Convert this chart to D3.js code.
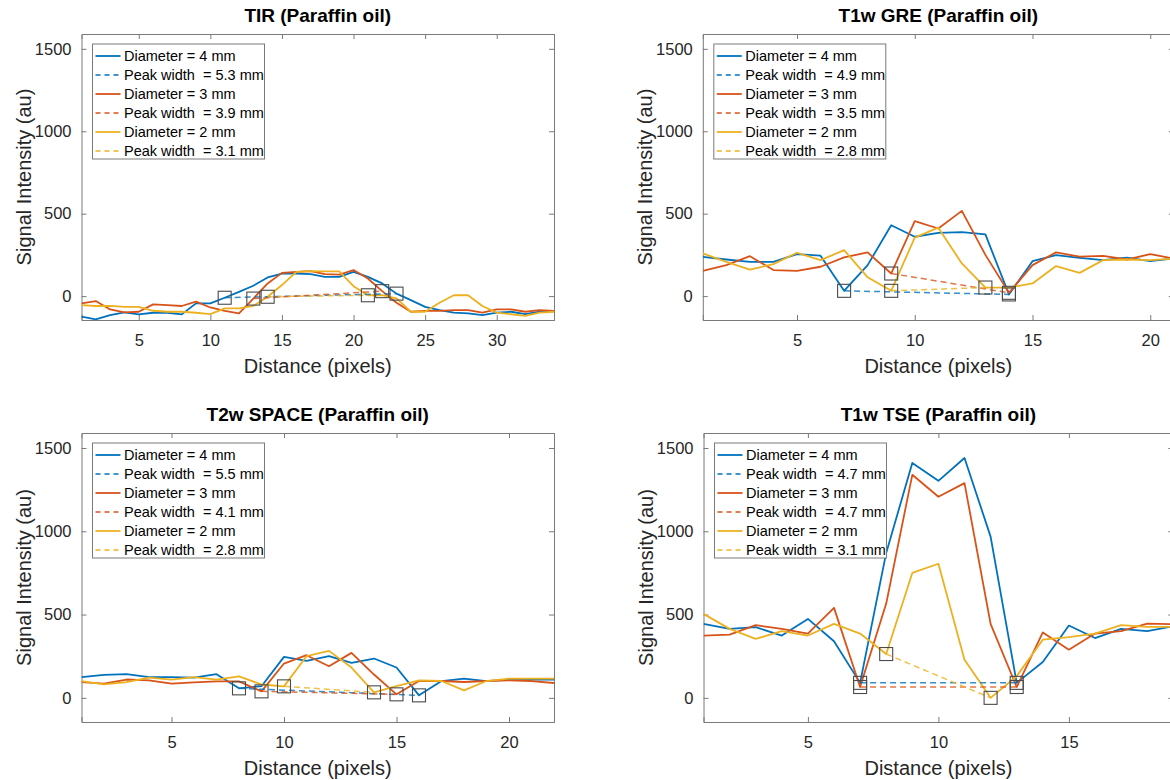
<!DOCTYPE html>
<html>
<head>
<meta charset="utf-8">
<script src="https://cdn.jsdelivr.net/npm/d3@7"></script>
<style>
  body { margin: 0; background: #fff; }
  svg { display: block; font-family: 'Liberation Sans', Arial, sans-serif; }
  .tick-label { font-size: 16.5px; fill: #262626; }
  .axis-title { font-size: 20px; fill: #262626; }
  .panel-title { font-size: 19px; font-weight: bold; fill: #000; }
  .legend-text { font-size: 14.5px; fill: #000; white-space: pre; }
</style>
</head>
<body>
<svg id="chart"></svg>
<script>
// 数据 - 直径 4 / 3 / 2 mm 的信号曲线
const seriesColors = ['#0072BD', '#D95319', '#EDB120'];
const diameterLabels = ['Diameter = 4 mm', 'Diameter = 3 mm', 'Diameter = 2 mm'];
const yTicks = [0, 500, 1000, 1500];

// TIR
const tirTitle = 'TIR (Paraffin oil)';
const tirD4 = [-125, -141, -115, -99, -111, -101, -101, -111, -44, -44, -10, 26, 63, 113, 137, 137, 133, 117, 117, 147, 117, 77, 15, -24, -65, -85, -100, -105, -115, -100, -95, -110, -95, -90];
const tirD3 = [-44, -30, -81, -99, -95, -50, -55, -60, -34, -69, -89, -105, -15, 77, 141, 147, 152, 133, 130, 158, 107, 30, -40, -95, -90, -90, -85, -85, -100, -80, -80, -95, -85, -90];
const tirD2 = [-55, -60, -59, -65, -65, -89, -95, -95, -101, -109, -75, -75, -60, -4, 67, 147, 152, 150, 150, 60, 5, 6, -14, -95, -95, -40, 5, 5, -60, -100, -110, -120, -100, -95];
const tirPeaks = [[11, 23], [13, 22], [14, 21]];
const tirWidths = ['5.3', '3.9', '3.1'];
const tirXTicks = [5, 10, 15, 20, 25, 30];

// T1w GRE
const greTitle = 'T1w GRE (Paraffin oil)';
const greD4 = [238, 222, 208, 208, 255, 245, 32, 188, 430, 360, 384, 388, 374, 10, 212, 248, 232, 218, 233, 212, 228];
const greD3 = [153, 188, 242, 158, 153, 178, 235, 265, 137, 455, 410, 517, 250, 20, 188, 265, 240, 244, 222, 255, 228];
const greD2 = [259, 208, 161, 194, 263, 218, 279, 114, 32, 355, 415, 198, 52, 52, 77, 182, 141, 218, 222, 218, 228];
const grePeaks = [[7, 14], [9, 14], [9, 13]];
const greWidths = ['4.9', '3.5', '2.8'];
const greXTicks = [5, 10, 15, 20];

// T2w SPACE
const spaceTitle = 'T2w SPACE (Paraffin oil)';
const spaceD4 = [125, 138, 142, 125, 125, 121, 142, 57, 70, 246, 222, 250, 210, 236, 182, 15, 101, 115, 101, 109, 109, 109];
const spaceD3 = [95, 85, 110, 105, 85, 93, 99, 99, 39, 206, 256, 190, 270, 140, 21, 101, 101, 95, 101, 105, 101, 89];
const spaceD2 = [101, 81, 95, 121, 109, 125, 109, 129, 80, 69, 250, 282, 182, 33, 70, 105, 101, 45, 101, 115, 115, 115];
const spacePeaks = [[8, 16], [9, 15], [10, 14]];
const spaceWidths = ['5.5', '4.1', '2.8'];
const spaceXTicks = [5, 10, 15, 20];

// T1w TSE
const tseTitle = 'T1w TSE (Paraffin oil)';
const tseD4 = [444, 414, 424, 374, 474, 340, 90, 870, 1410, 1303, 1440, 968, 90, 215, 434, 359, 414, 400, 430];
const tseD3 = [373, 380, 436, 414, 386, 540, 65, 566, 1339, 1207, 1289, 444, 65, 393, 289, 386, 400, 446, 442];
const tseD2 = [504, 414, 354, 400, 374, 444, 386, 263, 750, 805, 229, 0, 130, 349, 365, 386, 436, 426, 426];
const tsePeaks = [[7, 13], [7, 13], [8, 12]];
const tseWidths = ['4.7', '4.7', '3.1'];
const tseXTicks = [5, 10, 15];

// 面板配置
const panels = [
  { title: tirTitle, series: [tirD4, tirD3, tirD2], peaks: tirPeaks, widths: tirWidths, xTicks: tirXTicks,
    left: 81.5, top: 34, width: 472.5, height: 286 },
  { title: greTitle, series: [greD4, greD3, greD2], peaks: grePeaks, widths: greWidths, xTicks: greXTicks,
    left: 702.8, top: 34, width: 471, height: 286 },
  { title: spaceTitle, series: [spaceD4, spaceD3, spaceD2], peaks: spacePeaks, widths: spaceWidths, xTicks: spaceXTicks,
    left: 81.5, top: 433, width: 472.5, height: 289 },
  { title: tseTitle, series: [tseD4, tseD3, tseD2], peaks: tsePeaks, widths: tseWidths, xTicks: tseXTicks,
    left: 703.5, top: 433, width: 469.8, height: 289 },
];

const svg = d3.select('#chart').attr('width', 1170).attr('height', 780);
svg.append('rect').attr('width', 1170).attr('height', 780).attr('fill', '#fff');

const axisColor = '#7a7a7a';

panels.forEach((p, i) => {
  const n = p.series[0].length;
  const x = d3.scaleLinear().domain([1, n]).range([0, p.width]);
  const y = d3.scaleLinear().domain([-145, 1590]).range([p.height, 0]);

  const g = svg.append('g').attr('transform', `translate(${p.left},${p.top})`);

  // 裁剪区域
  g.append('clipPath').attr('id', 'clip' + i)
    .append('rect').attr('width', p.width).attr('height', p.height);

  // 坐标轴
  const xAxis = d3.axisBottom(x).tickValues(p.xTicks).tickSize(-5).tickPadding(14).tickFormat(d3.format('d'));
  const xAxisTop = d3.axisTop(x).tickValues(p.xTicks).tickSize(-5).tickFormat('');
  const yAxis = d3.axisLeft(y).tickValues(yTicks).tickSize(-5).tickPadding(10).tickFormat(d3.format('d'));
  const yAxisRight = d3.axisRight(y).tickValues(yTicks).tickSize(-5).tickFormat('');

  [
    g.append('g').attr('transform', `translate(0,${p.height})`).call(xAxis),
    g.append('g').call(xAxisTop),
    g.append('g').call(yAxis),
    g.append('g').attr('transform', `translate(${p.width},0)`).call(yAxisRight),
  ].forEach((ax) => {
    ax.select('.domain').attr('stroke', axisColor);
    ax.selectAll('.tick line').attr('stroke', axisColor);
    ax.selectAll('.tick text').attr('class', 'tick-label').attr('font-size', null).attr('font-family', null);
  });

  const plot = g.append('g').attr('clip-path', `url(#clip${i})`);

  const line = d3.line().x((d, j) => x(j + 1)).y((d) => y(d));

  // 曲线
  p.series.forEach((s, k) => {
    plot.append('path')
      .datum(s)
      .attr('fill', 'none')
      .attr('stroke', seriesColors[k])
      .attr('stroke-width', 1.8)
      .attr('stroke-linejoin', 'round')
      .attr('d', line);
  });

  // 峰宽虚线 + 方形标记
  p.peaks.forEach((pk, k) => {
    const pts = pk.map((xi) => [xi, p.series[k][xi - 1]]);
    plot.append('path')
      .datum(pts)
      .attr('fill', 'none')
      .attr('stroke', seriesColors[k])
      .attr('stroke-opacity', 0.8)
      .attr('stroke-width', 1.5)
      .attr('stroke-dasharray', '6,4')
      .attr('d', d3.line().x((d) => x(d[0])).y((d) => y(d[1])));
    pts.forEach((pt) => {
      g.append('rect')
        .attr('x', x(pt[0]) - 6.5)
        .attr('y', y(pt[1]) - 6.5)
        .attr('width', 13)
        .attr('height', 13)
        .attr('fill', 'none')
        .attr('stroke', '#4a4a4a')
        .attr('stroke-width', 1.1);
    });
  });

  // 标题
  g.append('text')
    .attr('class', 'panel-title')
    .attr('x', p.width / 2)
    .attr('y', -12)
    .attr('text-anchor', 'middle')
    .text(p.title);

  // X轴标签
  g.append('text')
    .attr('class', 'axis-title')
    .attr('x', p.width / 2)
    .attr('y', p.height + 53)
    .attr('text-anchor', 'middle')
    .text('Distance (pixels)');

  // Y轴标签
  g.append('text')
    .attr('class', 'axis-title')
    .attr('transform', 'rotate(-90)')
    .attr('x', -p.height / 2)
    .attr('y', -51)
    .attr('text-anchor', 'middle')
    .text('Signal Intensity (au)');

  // 图例
  const lg = g.append('g').attr('transform', 'translate(11,10)');
  lg.append('rect')
    .attr('width', 172)
    .attr('height', 115)
    .attr('fill', '#fff')
    .attr('stroke', axisColor);
  p.series.forEach((s, k) => {
    const rows = [
      { label: diameterLabels[k], dash: null, op: 1 },
      { label: `Peak width  = ${p.widths[k]} mm`, dash: '5,4', op: 0.75 },
    ];
    rows.forEach((r, m) => {
      const cy = 12 + (k * 2 + m) * 19;
      lg.append('line')
        .attr('x1', 3).attr('x2', 28)
        .attr('y1', cy).attr('y2', cy)
        .attr('stroke', seriesColors[k])
        .attr('stroke-opacity', r.op)
        .attr('stroke-width', 1.8)
        .attr('stroke-dasharray', r.dash);
      lg.append('text')
        .attr('class', 'legend-text')
        .attr('x', 31.5)
        .attr('y', cy + 5)
        .text(r.label);
    });
  });
});
</script>
</body>
</html>
